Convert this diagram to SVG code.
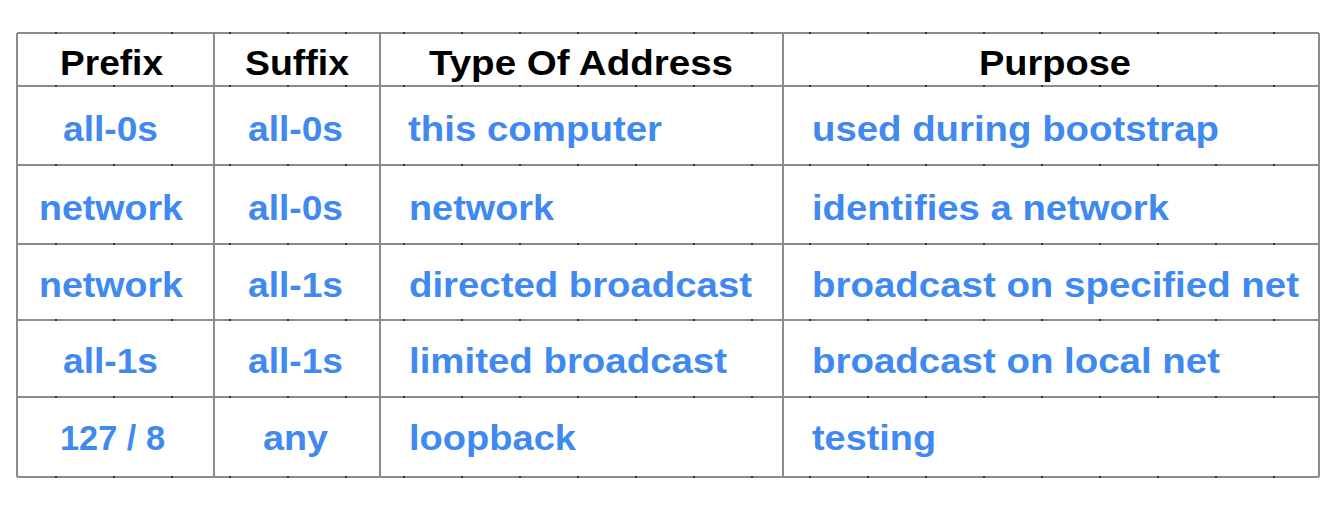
<svg xmlns="http://www.w3.org/2000/svg" width="1342" height="508" viewBox="0 0 1342 508">
<style>
.grid line{stroke:#8c8c8c;stroke-width:2;fill:none}
.ticks line{stroke:#333;stroke-width:2;stroke-dasharray:2 56;fill:none}
text{font-family:"Liberation Sans",Arial,Helvetica,sans-serif;font-weight:bold;font-size:35px}
.h{fill:#000}
.c{fill:#4089f0}
</style>
<rect width="1342" height="508" fill="#fff"/>
<g id="grid" class="grid">
<line x1="17" y1="33" x2="1319" y2="33"/>
<line x1="17" y1="86" x2="1319" y2="86"/>
<line x1="17" y1="165" x2="1319" y2="165"/>
<line x1="17" y1="244" x2="1319" y2="244"/>
<line x1="17" y1="320" x2="1319" y2="320"/>
<line x1="17" y1="397" x2="1319" y2="397"/>
<line x1="17" y1="477" x2="1319" y2="477"/>
<line x1="17" y1="33" x2="17" y2="477"/>
<line x1="214" y1="33" x2="214" y2="477"/>
<line x1="380" y1="33" x2="380" y2="477"/>
<line x1="783" y1="33" x2="783" y2="477"/>
<line x1="1319" y1="33" x2="1319" y2="477"/>
</g>
<g id="ticks" class="ticks">
<line x1="55" y1="33" x2="1319" y2="33"/>
<line x1="55" y1="86" x2="1319" y2="86"/>
<line x1="55" y1="165" x2="1319" y2="165"/>
<line x1="55" y1="244" x2="1319" y2="244"/>
<line x1="55" y1="320" x2="1319" y2="320"/>
<line x1="55" y1="397" x2="1319" y2="397"/>
<line x1="55" y1="477" x2="1319" y2="477"/>
</g>
<g id="header">
<text class="h" x="60" y="75" textLength="103" lengthAdjust="spacingAndGlyphs">Prefix</text>
<text class="h" x="245" y="75" textLength="104" lengthAdjust="spacingAndGlyphs">Suffix</text>
<text class="h" x="429" y="75" textLength="304" lengthAdjust="spacingAndGlyphs">Type Of Address</text>
<text class="h" x="979" y="75" textLength="152" lengthAdjust="spacingAndGlyphs">Purpose</text>
</g>
<g id="row1">
<text class="c" x="63" y="141" textLength="95" lengthAdjust="spacingAndGlyphs">all-0s</text>
<text class="c" x="248" y="141" textLength="95" lengthAdjust="spacingAndGlyphs">all-0s</text>
<text class="c" x="408" y="141" textLength="254" lengthAdjust="spacingAndGlyphs">this computer</text>
<text class="c" x="812" y="141" textLength="407" lengthAdjust="spacingAndGlyphs">used during bootstrap</text>
</g>
<g id="row2">
<text class="c" x="39" y="220" textLength="144" lengthAdjust="spacingAndGlyphs">network</text>
<text class="c" x="248" y="220" textLength="95" lengthAdjust="spacingAndGlyphs">all-0s</text>
<text class="c" x="409" y="220" textLength="145" lengthAdjust="spacingAndGlyphs">network</text>
<text class="c" x="812" y="220" textLength="357" lengthAdjust="spacingAndGlyphs">identifies a network</text>
</g>
<g id="row3">
<text class="c" x="39" y="297" textLength="144" lengthAdjust="spacingAndGlyphs">network</text>
<text class="c" x="248" y="297" textLength="95" lengthAdjust="spacingAndGlyphs">all-1s</text>
<text class="c" x="409" y="297" textLength="343" lengthAdjust="spacingAndGlyphs">directed broadcast</text>
<text class="c" x="812" y="297" textLength="487" lengthAdjust="spacingAndGlyphs">broadcast on specified net</text>
</g>
<g id="row4">
<text class="c" x="63" y="373" textLength="95" lengthAdjust="spacingAndGlyphs">all-1s</text>
<text class="c" x="248" y="373" textLength="95" lengthAdjust="spacingAndGlyphs">all-1s</text>
<text class="c" x="409" y="373" textLength="318" lengthAdjust="spacingAndGlyphs">limited broadcast</text>
<text class="c" x="812" y="373" textLength="408" lengthAdjust="spacingAndGlyphs">broadcast on local net</text>
</g>
<g id="row5">
<text class="c" x="60" y="450" textLength="105" lengthAdjust="spacingAndGlyphs">127 / 8</text>
<text class="c" x="263" y="450" textLength="65" lengthAdjust="spacingAndGlyphs">any</text>
<text class="c" x="409" y="450" textLength="167" lengthAdjust="spacingAndGlyphs">loopback</text>
<text class="c" x="812" y="450" textLength="124" lengthAdjust="spacingAndGlyphs">testing</text>
</g>
</svg>
